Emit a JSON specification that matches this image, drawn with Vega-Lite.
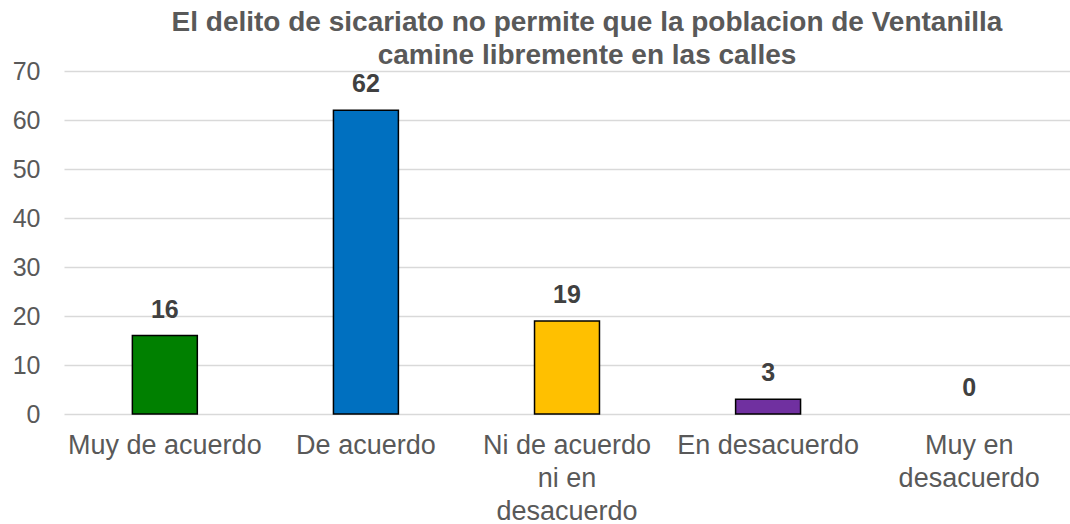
{
  "$schema": "https://vega.github.io/schema/vega-lite/v6.json",
  "autosize": "none",
  "width": 1006,
  "height": 343,
  "padding": {"left": 64, "top": 71, "right": 0, "bottom": 110},
  "background": "white",
  "title": {
    "text": ["El delito de sicariato no permite que la poblacion de Ventanilla", "camine libremente en las calles"],
    "font": "Liberation Sans",
    "fontSize": 28,
    "fontWeight": "bold",
    "color": "#595959",
    "lineHeight": 33,
    "anchor": "middle",
    "frame": "group",
    "dx": 20,
    "offset": -11
  },
  "data": {
    "values": [
      {"categoria": "Muy de acuerdo", "valor": 16, "color": "#008000"},
      {"categoria": "De acuerdo", "valor": 62, "color": "#0070C0"},
      {"categoria": "Ni de acuerdo ni en desacuerdo", "valor": 19, "color": "#FFC000"},
      {"categoria": "En desacuerdo", "valor": 3, "color": "#7030A0"},
      {"categoria": "Muy en desacuerdo", "valor": 0, "color": "#808080"}
    ]
  },
  "encoding": {
    "x": {
      "field": "categoria",
      "type": "nominal",
      "sort": null,
      "scale": {"paddingInner": 0.677, "paddingOuter": 0.34},
      "axis": {
        "title": null,
        "labelAngle": 0,
        "labelFont": "Liberation Sans",
        "labelFontSize": 27,
        "labelColor": "#595959",
        "labelPadding": 18,
        "labelLineHeight": 33,
        "labelLimit": 0,
        "ticks": false,
        "domain": false,
        "labelExpr": "datum.label == 'Ni de acuerdo ni en desacuerdo' ? ['Ni de acuerdo', 'ni en', 'desacuerdo'] : datum.label == 'Muy en desacuerdo' ? ['Muy en', 'desacuerdo'] : datum.label"
      }
    },
    "y": {
      "field": "valor",
      "type": "quantitative",
      "scale": {"domain": [0, 70], "nice": false},
      "axis": {
        "title": null,
        "values": [0, 10, 20, 30, 40, 50, 60, 70],
        "labelFont": "Liberation Sans",
        "labelFontSize": 25,
        "labelColor": "#595959",
        "labelPadding": 24,
        "ticks": false,
        "domain": false,
        "grid": true,
        "gridColor": "#D9D9D9",
        "gridWidth": 1.5
      }
    }
  },
  "layer": [
    {
      "mark": {"type": "bar", "stroke": "black", "strokeWidth": 1.5},
      "encoding": {
        "color": {"field": "color", "type": "nominal", "scale": null},
        "strokeOpacity": {"condition": {"test": "datum.valor > 0", "value": 1}, "value": 0}
      }
    },
    {
      "mark": {"type": "text", "baseline": "middle", "dy": -26, "font": "Liberation Sans", "fontSize": 25, "fontWeight": "bold", "color": "#404040"},
      "encoding": {
        "text": {"field": "valor", "type": "quantitative"}
      }
    }
  ],
  "config": {"view": {"stroke": null}}
}
